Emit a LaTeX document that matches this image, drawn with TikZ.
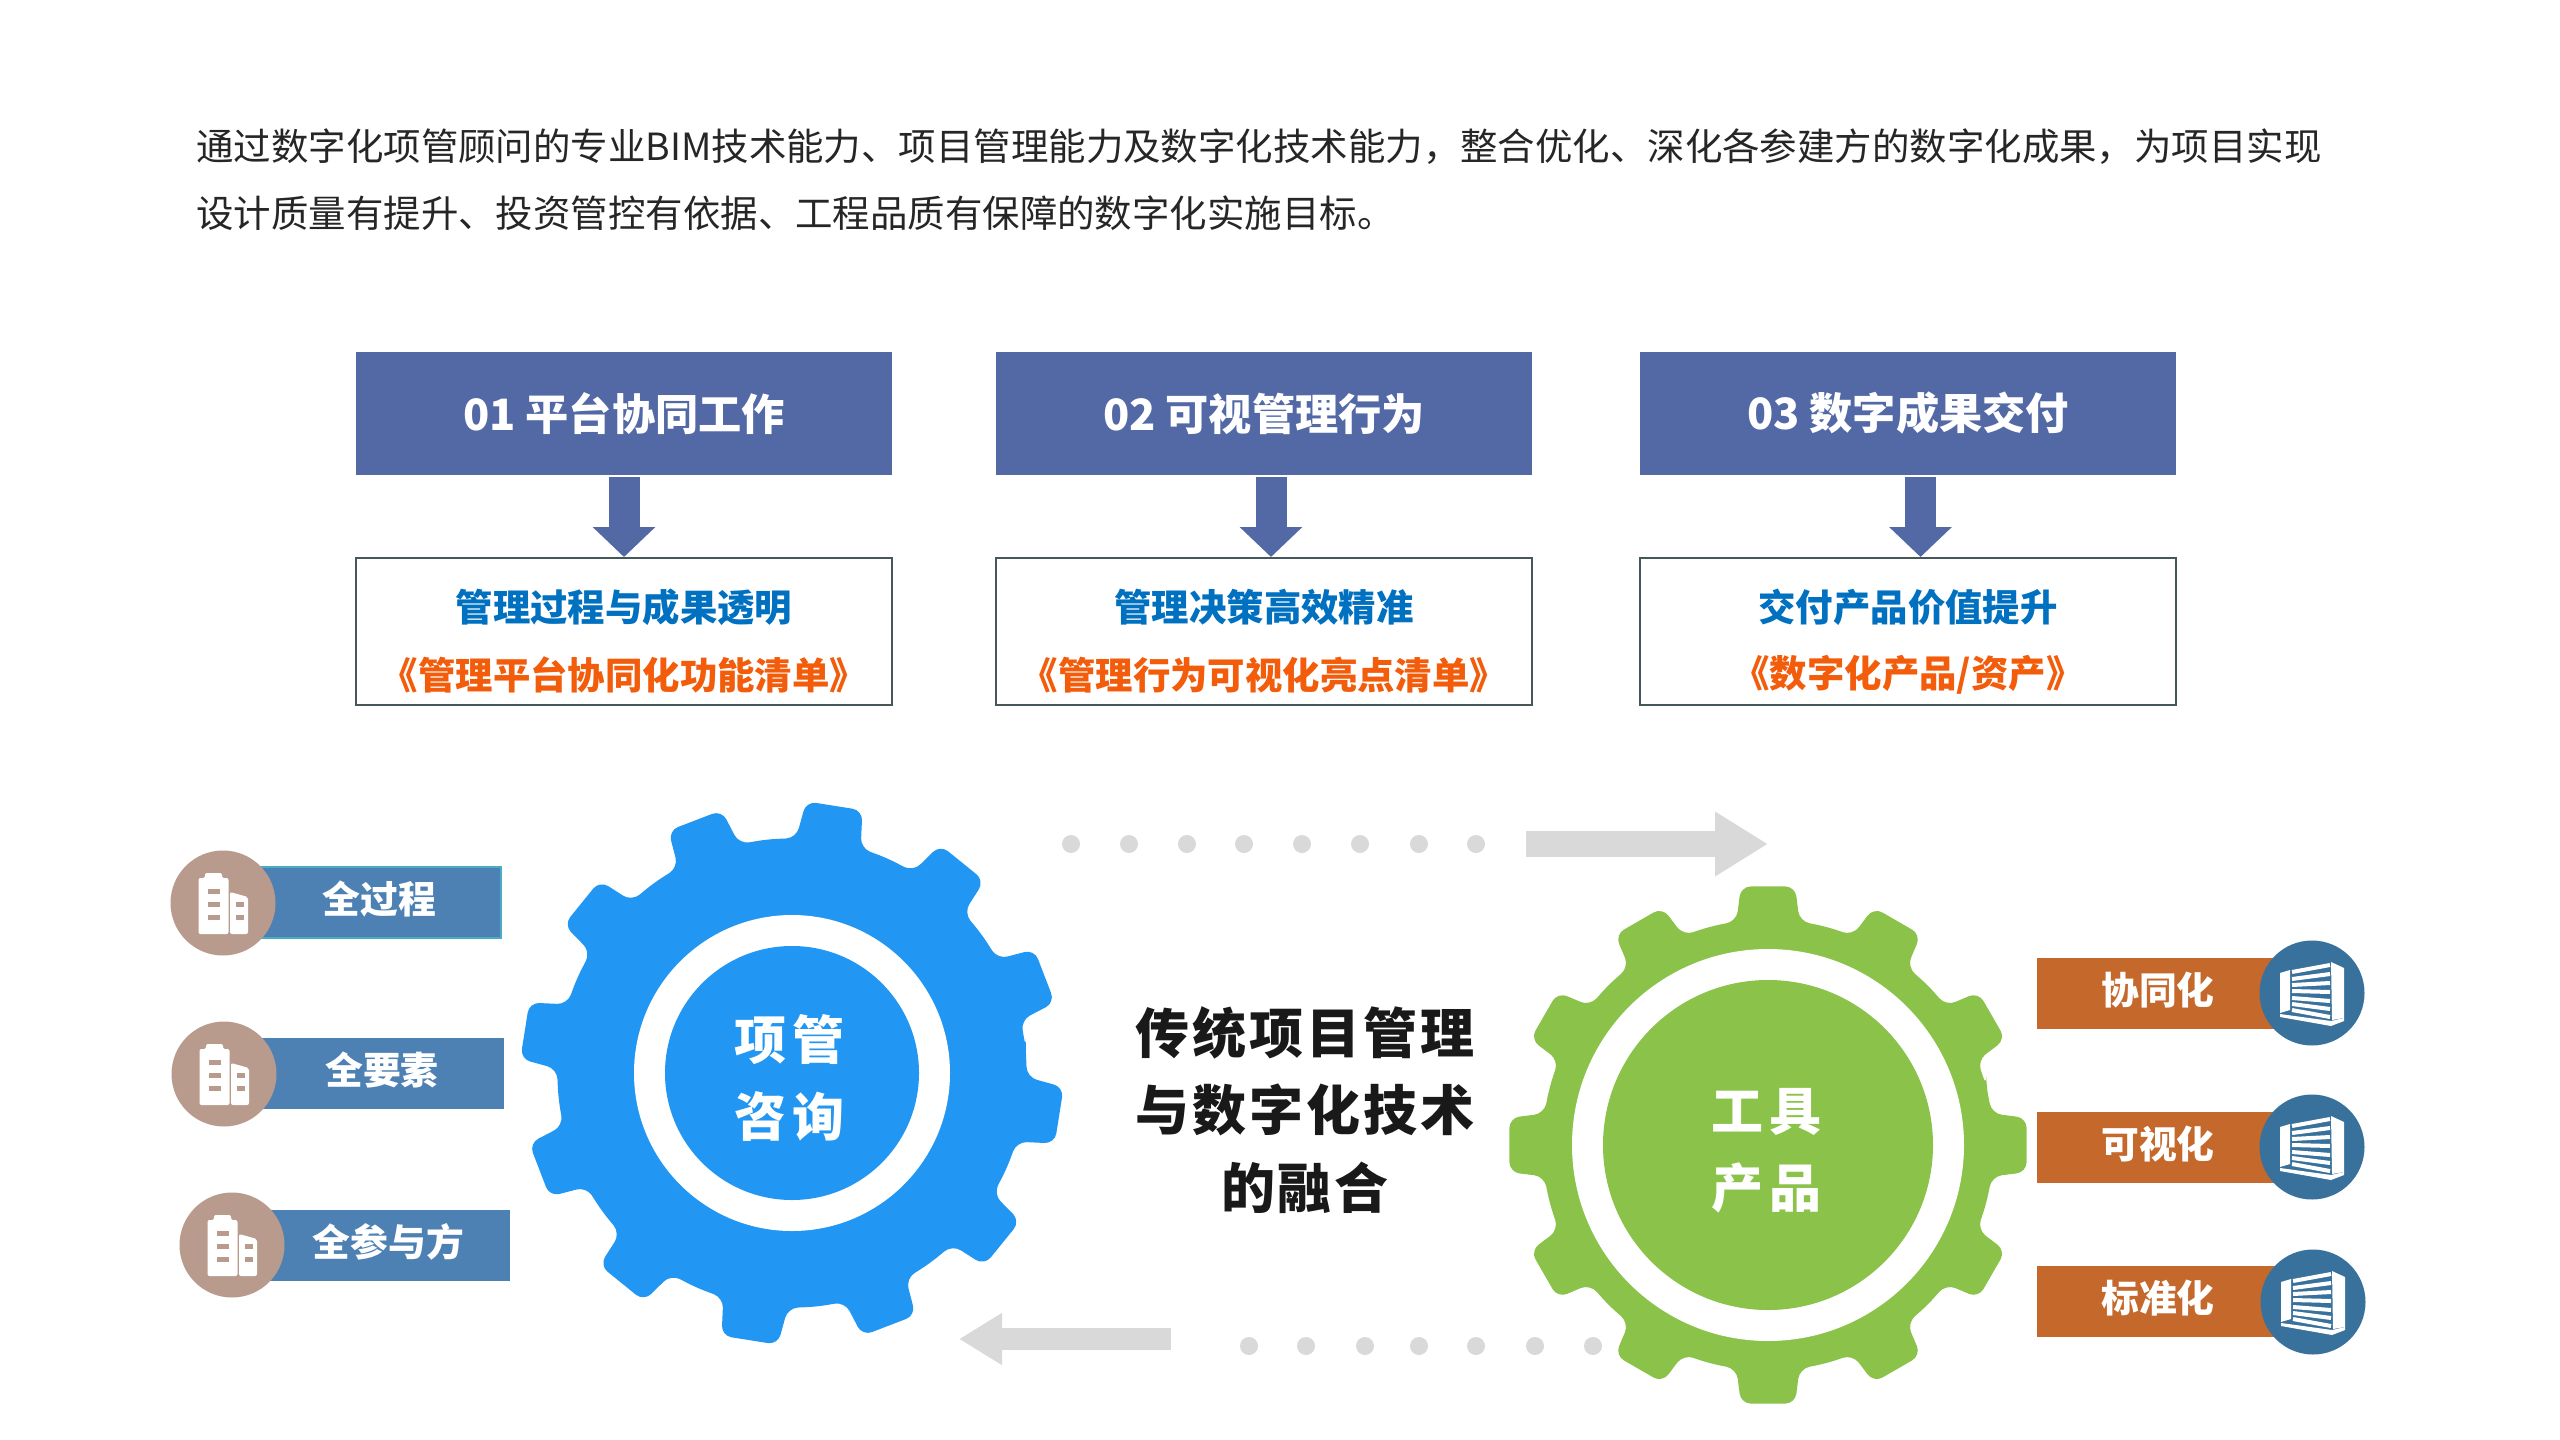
\documentclass[tikz,border=0pt]{standalone}
\usepackage{fontspec}
\setmainfont{Noto Sans CJK SC}
\usepackage{tikz}
\usetikzlibrary{arrows.meta}
\definecolor{headblue}{HTML}{5369A6}
\definecolor{subgrey}{HTML}{46575A}
\definecolor{subblue}{HTML}{0070C0}
\definecolor{suborange}{HTML}{F25C0A}
\definecolor{flowgrey}{HTML}{D9D9D9}
\definecolor{gearblue}{HTML}{2196F3}
\definecolor{geargreen}{HTML}{8BC34A}
\definecolor{tagblue}{HTML}{4E81B3}
\definecolor{tagteal}{HTML}{4BACC6}
\definecolor{tagorange}{HTML}{C5682C}
\definecolor{discbrown}{HTML}{B89B8C}
\definecolor{discblue}{HTML}{38719B}
\tikzset{
 introline/.style = {anchor=west, inner sep=0pt, text=black!85, font=\fontsize{18.72}{23}\selectfont},
 headbox/.style = {fill=headblue, text=white, inner sep=0pt, minimum width=268pt, minimum height=61.5pt,
  font=\fontsize{21.6}{26}\selectfont\bfseries},
 subbox/.style = {draw=subgrey, line width=1pt, fill=white, inner sep=0pt, minimum width=268pt, minimum height=73.5pt},
 subarrow/.style = {draw=headblue, line width=15.5pt, -{Triangle[length=15pt,width=30.5pt]}, shorten <=1pt},
 flowarrow/.style n args = {3}{draw=flowgrey, line width=#1, -{Triangle[length=#2,width=#3]}},
 flowdot/.style = {circle, fill=flowgrey, inner sep=0pt, minimum size=9pt},
 gearcore/.style = {circle, inner sep=0pt},
 gearlabel/.style = {text=white, inner sep=0pt, align=center,
  font=\fontsize{26}{38.5}\selectfont\bfseries\addfontfeature{LetterSpace=12}},
 tagbox/.style = {text=white, inner sep=0pt, minimum width=121.5pt, minimum height=35.5pt,
  text height=14pt, text depth=2.6pt, font=\fontsize{18.9}{22}\selectfont\bfseries},
 disc/.style = {circle, inner sep=0pt, minimum size=52.5pt}
}
\newcommand*{\gearwheel}[5]{
 \fill[#5, shift={(#1)}, rounded corners=5pt] ({#4-15}:#2)
  \foreach \a in {0,30,...,330} {
   -- ({#4+\a-8}:#2) -- ({#4+\a-6}:#3) -- ({#4+\a+6}:#3) -- ({#4+\a+8}:#2) -- ({#4+\a+15}:#2)
  } -- cycle;
}
\newcommand*{\towericon}[1]{
 \begin{scope}[shift={(#1)}]
 \fill[white, rounded corners=1pt] (-24.5,-25) -- (-18,-25) -- (-18,-30) -- (-1,-30) -- (-1,-25) -- (5.5,-25) -- (5.5,31) -- (-24.5,31) -- cycle;
 \fill[white, rounded corners=1pt] (7,-11) -- (25,-6) -- (25,31) -- (7,31) -- cycle;
 \foreach \wy in {-14,-1,12} \fill[discbrown] (-15,\wy) rectangle (-3.5,\wy+5);
 \foreach \wy in {-1,12} \fill[discbrown] (13,\wy) rectangle (20.5,\wy+5);
 \end{scope}
}
\newcommand*{\slaticon}[1]{
 \begin{scope}[shift={(#1)}]
 \fill[white] (-32,-20) -- (-22,-23) -- (-22,17) -- (-32,20) -- cycle;
 \fill[white] (19,-31) -- (32,-25) -- (32,25) -- (20,27) -- cycle;
 \fill[white] (-32,21) -- (19,28) -- (32,25) -- (32,28) -- (19,33) -- (-32,24) -- cycle;
 \foreach \ly/\ry in {-21/-28,-14/-19,-8/-10,-2/-1,5/8,11/16,17/24}
  \draw[white, line width=2pt] (-20,\ly) -- (18,\ry);
 \end{scope}
}

\begin{document}
\begin{tikzpicture}[x=0.5pt, y=-0.5pt]
\useasboundingbox (0,0) rectangle (2560,1440);
\fill[white] (0,0) rectangle (2560,1440);

% intro text
\node[introline] (intro1) at (196,147) {通过数字化项管顾问的专业BIM技术能力、项目管理能力及数字化技术能力，整合优化、深化各参建方的数字化成果，为项目实现};
\node[introline] (intro2) at (196,213) {设计质量有提升、投资管控有依据、工程品质有保障的数字化实施目标。};

% three columns
\node[headbox] (head1) at (624,413.5) {01 平台协同工作};
\node[headbox] (head2) at (1264,413.5) {02 可视管理行为};
\node[headbox] (head3) at (1908,413.5) {03 数字成果交付};

\node[subbox] (sub1) at (624,631.5) {};
\node[subbox] (sub2) at (1264,631.5) {};
\node[subbox] (sub3) at (1908,631.5) {};

\draw[subarrow] (head1.south) -- (sub1.north);
\draw[subarrow] ([xshift=3.5pt]head2.south) -- ([xshift=3.5pt]sub2.north);
\draw[subarrow] ([xshift=6.25pt]head3.south) -- ([xshift=6.25pt]sub3.north);

\foreach \name/\cx/\upper/\lower in {
 sub1/624/管理过程与成果透明/《管理平台协同化功能清单》,
 sub2/1264/管理决策高效精准/《管理行为可视化亮点清单》,
 sub3/1908/交付产品价值提升/{《数字化产品/资产》}}
{
 \node[text=subblue, font=\fontsize{18.7}{22}\selectfont\bfseries] (\name up) at (\cx,607) {\upper};
 \node[text=suborange, font=\fontsize{18.7}{22}\selectfont\bfseries] (\name low) at (\cx,675) {\lower};
}

% gears
\gearwheel{792,1073}{235}{272}{9}{gearblue}
\node[circle, fill=white, minimum size=158pt, inner sep=0pt] (ringa) at (792,1073) {};
\node[gearcore, fill=gearblue, minimum size=127pt] (geara) at (792,1073) {};
\node[gearlabel] (labela) at (789.5,1078) {项管\\咨询};

\gearwheel{1768,1145}{226}{260}{0}{geargreen}
\node[circle, fill=white, minimum size=196pt, inner sep=0pt] (ringb) at (1768,1145) {};
\node[gearcore, fill=geargreen, minimum size=165pt] (gearb) at (1768,1145) {};
\node[gearlabel] (labelb) at (1766.5,1150.5) {工具\\产品};

% centre text
\node[align=center, text=black!90, font=\fontsize{27}{38.8}\selectfont\bfseries\addfontfeature{LetterSpace=5.5}] (fusion) at (1305,1110) {传统项目管理\\与数字化技术\\的融合};

% dots and flow arrows
\foreach \i/\dx in {1/1071,2/1129,3/1187,4/1244,5/1302,6/1360,7/1419,8/1476}
 \node[flowdot] (upper\i) at (\dx,844) {};
\foreach \i/\dx in {1/1249,2/1306,3/1365,4/1419,5/1476,6/1535,7/1593}
 \node[flowdot] (lower\i) at (\dx,1346) {};
\coordinate (flowa) at (1526,844);
\coordinate (flowb) at (1768,844);
\coordinate (flowc) at (1171,1339);
\coordinate (flowd) at (959,1339);
\draw[flowarrow={13pt}{26.5pt}{30.5pt}] (flowa) -- (flowb);
\draw[flowarrow={11pt}{21.5pt}{24.5pt}] (flowc) -- (flowd);

% left tags
\node[tagbox, fill=tagblue, draw=tagteal, line width=1pt] (taga) at (379.5,902) {全过程};
\node[tagbox, fill=tagblue] (tagb) at (382,1073.5) {全要素};
\node[tagbox, fill=tagblue] (tagc) at (388.5,1245.5) {全参与方};
\node[disc, fill=discbrown] (disca) at (223,903) {};
\node[disc, fill=discbrown] (discb) at (224,1074) {};
\node[disc, fill=discbrown] (discc) at (232,1245) {};
\towericon{disca}
\towericon{discb}
\towericon{discc}

% right tags
\node[tagbox, fill=tagorange] (tagd) at (2158,993.5) {协同化};
\node[tagbox, fill=tagorange] (tage) at (2158,1147) {可视化};
\node[tagbox, fill=tagorange] (tagf) at (2158,1301.5) {标准化};
\node[disc, fill=discblue] (discd) at (2312,993) {};
\node[disc, fill=discblue] (disce) at (2312,1147) {};
\node[disc, fill=discblue] (discf) at (2313,1302) {};
\slaticon{discd}
\slaticon{disce}
\slaticon{discf}
\end{tikzpicture}
\end{document}
